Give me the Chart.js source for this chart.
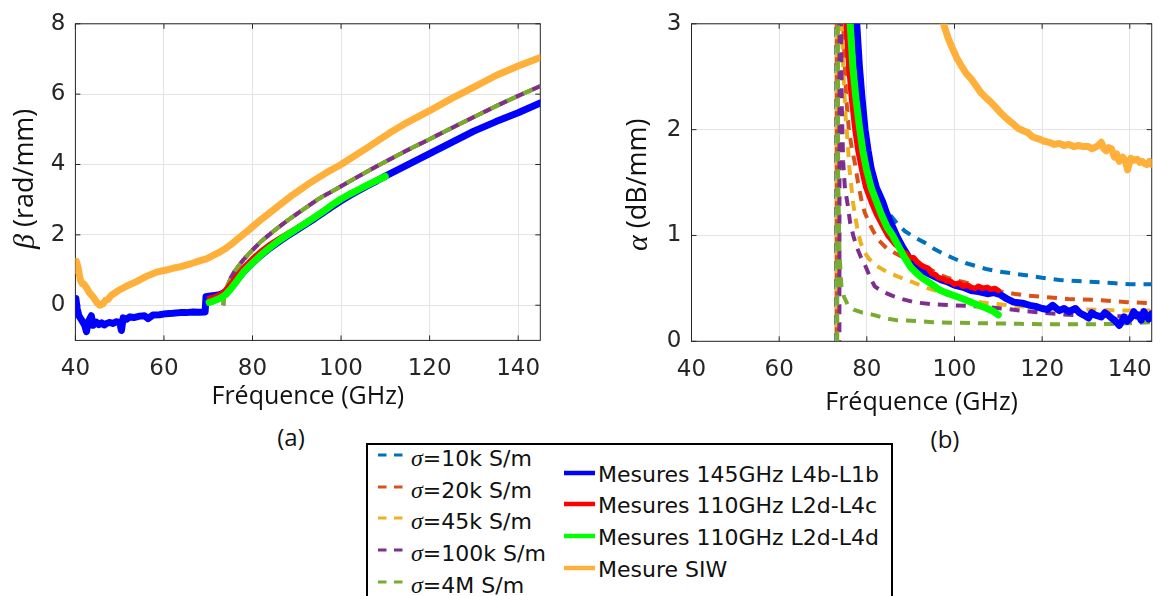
<!DOCTYPE html>
<html>
<head>
<meta charset="utf-8">
<script src="https://cdn.jsdelivr.net/npm/chart.js@4.4.1/dist/chart.umd.min.js"></script>
<style>
  body { margin: 0; width: 1167px; height: 596px; overflow: hidden; position: relative; background: #fff; }
  canvas { position: absolute; top: 0; }
  .cap { position: absolute; font: 24px "Open Sans", sans-serif; color: #111; line-height: 1; transform: translate(-50%, -50%); }
  #legendBox { position: absolute; left: 366px; top: 443px; width: 527px; height: 200px; border: 2px solid #000; box-sizing: border-box; }
  .lt { position: absolute; font: 22px "DejaVu Sans", sans-serif; color: #111; line-height: 24px; white-space: nowrap; }
  .lt i { font-family: "Liberation Serif", serif; font-size: 24px; }
  .ls { position: absolute; }
</style>
</head>
<body>
<canvas id="chartA" width="580" height="412" style="left:0"></canvas>
<canvas id="chartB" width="567" height="418" style="left:600px"></canvas>
<div class="cap" style="left:291px;top:437px">(a)</div>
<div class="cap" style="left:945px;top:439px">(b)</div>
<div id="legendBox"></div>
<script>
// axes ticks
const freqTicks = [40, 60, 80, 100, 120, 140];
const betaTicks = [0, 2, 4, 6, 8];
const alphaTicks = [0, 1, 2, 3];

// legend
const sigmaLabels = ['10k', '20k', '45k', '100k', '4M'];
const simColors = ['#0072BD', '#D95319', '#EDB120', '#7E2F8E', '#77AC30'];
const measLabels = ['Mesures 145GHz L4b-L1b', 'Mesures 110GHz L2d-L4c', 'Mesures 110GHz L2d-L4d', 'Mesure SIW'];
const measColors = ['#0000ff', '#ff0000', '#00ff00', '#ffb03a'];

// ---- beta (rad/mm) ----
const fBetaBlue = [40.0, 40.1, 40.4, 40.8, 41.4, 42.1, 42.5, 42.9, 43.6, 44.0, 44.7, 45.3, 45.9, 46.5, 47.0, 47.8, 48.5, 49.2, 50.0, 50.4,
  50.8, 51.5, 52.3, 53.2, 54.5, 55.6, 56.4, 57.5, 59.0, 60.5, 62.0, 63.6, 65.0, 66.6, 68.0, 69.3, 69.5, 70.5, 71.5, 72.5,
  73.5, 74.5, 75.5, 76.5, 78, 80, 82, 84, 86, 88, 90, 92, 94, 96, 98, 100, 102, 104, 106, 108, 110, 115, 120, 125, 130, 135, 140, 145];
const betaBlue = [0.15, 0.19, -0.1, -0.3, -0.42, -0.57, -0.75, -0.47, -0.3, -0.57, -0.48, -0.55, -0.5, -0.56, -0.52, -0.49, -0.52, -0.47, -0.49, -0.72,
  -0.36, -0.4, -0.33, -0.35, -0.31, -0.3, -0.38, -0.28, -0.27, -0.24, -0.23, -0.21, -0.21, -0.19, -0.2, -0.19, 0.24, 0.26, 0.28, 0.3,
  0.35, 0.45, 0.56, 0.72, 0.95, 1.2, 1.43, 1.63, 1.81, 1.98, 2.14, 2.3, 2.46, 2.63, 2.8, 2.97, 3.12, 3.26, 3.4, 3.53, 3.67, 3.99, 4.31, 4.63, 4.95, 5.22, 5.47, 5.75];

const fBetaRed = [70.2, 71, 72, 73, 74, 75, 76, 77, 78, 80, 82, 84, 86, 88, 90, 94, 98, 102, 106, 110];
const betaRed = [0.2, 0.23, 0.27, 0.33, 0.44, 0.6, 0.77, 0.93, 1.08, 1.33, 1.55, 1.74, 1.9, 2.05, 2.2, 2.52, 2.86, 3.16, 3.42, 3.64];

const fBetaGreen = [70.2, 71, 72, 73, 74, 75, 76, 77, 78, 80, 82, 84, 86, 88, 90, 92, 94, 96, 98, 100, 102, 104, 106, 108, 110];
const betaGreen = [0.08, 0.11, 0.16, 0.22, 0.31, 0.45, 0.61, 0.78, 0.95, 1.2, 1.44, 1.65, 1.84, 2.01, 2.17, 2.33, 2.5, 2.67, 2.85, 3.02, 3.16, 3.29, 3.42, 3.54, 3.66];

const fBetaSiw = [40.0, 40.2, 40.6, 41.1, 41.5, 41.9, 42.5, 43.2, 44.0, 44.7, 45.5, 46.2, 46.8, 47.4, 48.1, 49.6, 51.5, 53.8, 56.0, 58.3,
  60.5, 62.0, 63.6, 65.0, 66.6, 68.0, 69.6, 71.0, 72.6, 74.0, 75.6, 77.0, 78.6, 80.0, 81.6, 85.4, 89.1, 92.9, 96.7, 100,
  105.7, 111, 115, 120, 125, 130, 135, 140, 145];
const betaSiw = [0.99, 1.25, 1.08, 0.72, 0.62, 0.6, 0.5, 0.35, 0.24, 0.1, 0.0, 0.04, 0.14, 0.17, 0.28, 0.41, 0.54, 0.67, 0.82, 0.94,
  1.0, 1.05, 1.09, 1.14, 1.2, 1.26, 1.32, 1.41, 1.51, 1.62, 1.77, 1.92, 2.08, 2.23, 2.4, 2.78, 3.14, 3.47, 3.77, 4.0,
  4.46, 4.9, 5.2, 5.53, 5.88, 6.2, 6.53, 6.8, 7.04];

// the five simulated beta curves lie on top of each other
const fBetaSim = [73.4, 73.6, 74, 74.5, 75.2, 76, 77, 78, 80, 82, 85, 88, 91, 95, 100, 105, 110, 115, 120, 125, 130, 135, 140, 145];
const betaSim = [0, 0.25, 0.45, 0.6, 0.8, 0.97, 1.14, 1.3, 1.57, 1.82, 2.13, 2.42, 2.68, 3.03, 3.38, 3.74, 4.08, 4.41, 4.72, 5.04, 5.35, 5.66, 5.95, 6.23];

// ---- alpha (dB/mm) ----
const fAlphaBlue = [77.4, 77.7, 78.3, 78.9, 79.6, 80.3, 81.0, 82.2, 83.6, 84.6, 85.9, 87, 88.3, 89.5, 91, 93, 95, 97, 98.5, 100,
  102, 103.8, 105.5, 107.5, 109, 110.5, 112, 113.5, 115.5, 117.2, 118.5, 120, 121.2, 122.4, 123.9, 125, 126.1, 127.6, 128.5, 129.4,
  130.6, 131.3, 132, 133.5, 134.3, 135, 135.8, 136.5, 137.6, 138.2, 138.7, 139.4, 140.2, 140.9, 141.5, 142, 142.6, 143.2, 143.8, 144.3, 145];
const alphaBlue = [3.4, 3.0, 2.6, 2.3, 2.0, 1.8, 1.63, 1.45, 1.32, 1.2, 1.08, 0.98, 0.88, 0.8, 0.72, 0.66, 0.62, 0.58, 0.56, 0.53,
  0.51, 0.48, 0.47, 0.45, 0.46, 0.44, 0.4, 0.37, 0.36, 0.34, 0.33, 0.31, 0.3, 0.34, 0.29, 0.31, 0.28, 0.31, 0.27, 0.25,
  0.22, 0.27, 0.25, 0.23, 0.27, 0.25, 0.22, 0.2, 0.15, 0.19, 0.23, 0.19, 0.22, 0.28, 0.24, 0.25, 0.2, 0.28, 0.24, 0.21, 0.26];

const fAlphaRed = [75.0, 75.3, 75.9, 76.5, 77.3, 78.0, 78.8, 79.8, 81, 82.2, 83.5, 84.8, 85.8, 86.6, 87.4, 88.3, 89.0, 89.8, 90.7, 91.5,
  92.4, 93.3, 94.0, 94.8, 95.6, 96.4, 97.4, 98.2, 99, 100, 101, 102, 103, 103.8, 104.7, 105.5, 106.3, 107.5, 108.3, 109.2, 110];
const alphaRed = [3.4, 3.0, 2.6, 2.3, 2.0, 1.8, 1.63, 1.45, 1.32, 1.2, 1.1, 1.0, 0.95, 0.91, 0.89, 0.84, 0.83, 0.79, 0.79, 0.75,
  0.72, 0.7, 0.69, 0.64, 0.63, 0.6, 0.59, 0.57, 0.57, 0.54, 0.55, 0.52, 0.53, 0.51, 0.5, 0.52, 0.5, 0.51, 0.49, 0.5, 0.48];

const fAlphaGreen = [75.9, 76.2, 76.8, 77.5, 78.4, 79.1, 79.9, 81, 82.2, 83.3, 84.6, 85.9, 87.2, 88.5, 90, 91.2, 92.6, 94.8, 96.4, 98,
  100, 102, 103.8, 105.5, 107.5, 109, 110];
const alphaGreen = [3.4, 3.0, 2.6, 2.3, 2.0, 1.8, 1.63, 1.45, 1.32, 1.2, 1.08, 1.0, 0.9, 0.8, 0.7, 0.65, 0.6, 0.54, 0.49, 0.46,
  0.43, 0.4, 0.37, 0.34, 0.31, 0.28, 0.25];

const fAlphaSiw = [97.2, 97.5, 98.5, 99.3, 100.5, 101.6, 102.7, 103.8, 105, 106, 107.2, 108.3, 109.4, 110.5, 112, 113.5, 114.6, 115.7, 116.8, 117.9,
  118.6, 119.4, 120.5, 121.6, 122.8, 123.9, 125, 126.1, 127.2, 128.3, 129.4, 130.6, 131.3, 132, 132.8, 133.5, 134.1, 134.6, 135.2, 135.8,
  136.5, 137, 137.6, 138.4, 139, 139.5, 140.2, 140.9, 141.7, 142.3, 142.8, 143.4, 143.9, 144.5, 145];
const alphaSiw = [3.05, 3.0, 2.87, 2.79, 2.68, 2.6, 2.53, 2.48, 2.41, 2.35, 2.3, 2.26, 2.21, 2.16, 2.1, 2.05, 2.01, 1.99, 1.97, 1.93,
  1.92, 1.91, 1.89, 1.88, 1.86, 1.87, 1.85, 1.86, 1.84, 1.85, 1.84, 1.84, 1.82, 1.83, 1.85, 1.88, 1.82, 1.8, 1.83, 1.82,
  1.74, 1.77, 1.7, 1.74, 1.7, 1.62, 1.73, 1.71, 1.72, 1.69, 1.7, 1.68, 1.67, 1.7, 1.67];

const fAlpha10k = [73.0, 73.05, 77.3, 78.1, 79, 80, 81.3, 82.8, 84, 85.2, 87, 88.7, 91, 93.3, 95.5, 97.8, 100, 102.5, 105, 107.5,
  110, 113.5, 117, 120, 124, 128, 132, 136, 140, 145];
const alpha10k = [0, 6, 3.0, 2.5, 2.1, 1.8, 1.55, 1.38, 1.27, 1.2, 1.11, 1.04, 0.98, 0.93, 0.87, 0.82, 0.78, 0.74, 0.71, 0.68,
  0.66, 0.64, 0.62, 0.6, 0.58, 0.57, 0.56, 0.55, 0.54, 0.54];

const fAlpha20k = [73.1, 73.15, 74.6, 75.0, 75.3, 75.9, 76.6, 77.2, 78, 78.7, 79.5, 80.5, 81.6, 82.8, 84.5, 86.6, 89, 91.5, 94, 97,
  100, 104, 108, 113.5, 117, 120, 126, 133, 139.5, 145];
const alpha20k = [0, 6, 3.0, 2.6, 2.3, 2.0, 1.82, 1.7, 1.5, 1.35, 1.22, 1.12, 1.03, 0.95, 0.88, 0.83, 0.78, 0.75, 0.69, 0.62,
  0.58, 0.54, 0.49, 0.45, 0.43, 0.42, 0.4, 0.39, 0.37, 0.36];

const fAlpha45k = [73.15, 73.2, 74.3, 74.7, 75.2, 75.6, 76.0, 76.5, 76.9, 77.4, 77.9, 78.6, 79.5, 80.5, 82, 84, 86, 88.5, 91, 94,
  97, 100, 104, 107.5, 115, 122, 130, 140, 145];
const alpha45k = [0, 6, 3.0, 2.5, 2.1, 1.9, 1.65, 1.45, 1.3, 1.17, 1.05, 0.93, 0.84, 0.78, 0.72, 0.67, 0.63, 0.59, 0.55, 0.5,
  0.46, 0.42, 0.38, 0.36, 0.33, 0.31, 0.3, 0.29, 0.29];

const fAlpha100k = [73.75, 73.8, 74.1, 74.3, 74.6, 75.0, 75.6, 76.2, 76.9, 77.7, 78.7, 79.8, 80.8, 81.8, 83.5, 85.9, 88, 90.7, 94.8, 100,
  105, 111, 115, 120, 126, 135, 145];
const alpha100k = [0, 6, 3.0, 2.2, 1.7, 1.45, 1.3, 1.12, 1.0, 0.89, 0.79, 0.7, 0.6, 0.52, 0.47, 0.43, 0.4, 0.37, 0.35, 0.34,
  0.33, 0.31, 0.29, 0.27, 0.25, 0.24, 0.23];

const fAlpha4M = [73.25, 73.3, 73.45, 73.75, 74.2, 74.8, 75.6, 77, 79, 81.5, 84, 86.7, 91.8, 95, 100, 107.5, 115, 122, 130, 137, 142, 145];
const alpha4M = [0, 6, 1.6, 0.85, 0.52, 0.42, 0.35, 0.3, 0.27, 0.25, 0.22, 0.2, 0.19, 0.18, 0.175, 0.17, 0.165, 0.16, 0.16, 0.165, 0.175, 0.18];

const DASH = [10, 8];

function line(fs, vs, color, width, dashed, offset) {
  return {
    data: fs.map((f, i) => ({ x: f, y: vs[i] })),
    borderColor: color,
    borderWidth: width,
    borderDash: dashed ? DASH : [],
    borderDashOffset: offset || 0,
    borderJoinStyle: 'round',
    borderCapStyle: dashed ? 'butt' : 'round',
    pointRadius: 0,
    tension: 0,
    fill: false
  };
}

// box + inward ticks like matlab, and y label with an italic greek letter
const boxPlugin = {
  id: 'matlabBox',
  beforeDatasetsDraw(chart) {
    const { ctx, chartArea: a, scales } = chart;
    ctx.save();
    ctx.strokeStyle = '#262626';
    ctx.lineWidth = 1;
    ctx.strokeRect(a.left, a.top, a.right - a.left, a.bottom - a.top);
    ctx.beginPath();
    scales.x.ticks.forEach(t => {
      const p = scales.x.getPixelForValue(t.value);
      ctx.moveTo(p, a.bottom); ctx.lineTo(p, a.bottom - 5);
      ctx.moveTo(p, a.top); ctx.lineTo(p, a.top + 5);
    });
    scales.y.ticks.forEach(t => {
      const p = scales.y.getPixelForValue(t.value);
      ctx.moveTo(a.left, p); ctx.lineTo(a.left + 5, p);
      ctx.moveTo(a.right, p); ctx.lineTo(a.right - 5, p);
    });
    ctx.stroke();
    ctx.restore();
  },
  afterDraw(chart, args, opts) {
    const { ctx } = chart;
    ctx.save();
    ctx.translate(opts.x, opts.bottom);
    ctx.rotate(-Math.PI / 2);
    ctx.textBaseline = 'middle';
    ctx.textAlign = 'left';
    ctx.fillStyle = '#111';
    ctx.font = 'italic 30px "Liberation Serif"';
    ctx.fillText(opts.greek, 0, 1);
    const w = ctx.measureText(opts.greek).width;
    ctx.font = '27px "Open Sans"';
    ctx.fillText(' ' + opts.unit, w, 0);
    ctx.restore();
  }
};

function makeChart(id, cfg) {
  return new Chart(document.getElementById(id), {
    type: 'line',
    data: { datasets: cfg.datasets },
    plugins: [boxPlugin],
    options: {
      responsive: false,
      animation: false,
      layout: { padding: cfg.padding },
      plugins: {
        legend: { display: false },
        tooltip: { enabled: false },
        matlabBox: cfg.yLabel
      },
      scales: {
        x: {
          type: 'linear', min: 40, max: 145,
          afterBuildTicks: s => { s.ticks = freqTicks.map(v => ({ value: v })); },
          afterFit: s => { s.height = cfg.xHeight; },
          grid: { color: '#e4e4e4', drawTicks: false },
          border: { display: false },
          ticks: { font: { family: 'DejaVu Sans', size: 23 }, color: '#262626', padding: 15, maxRotation: 0, autoSkip: false },
          title: { display: true, text: 'Fréquence (GHz)', font: { family: 'Open Sans', size: 25 }, color: '#111', padding: { top: 0, bottom: 0 } }
        },
        y: {
          type: 'linear', min: cfg.yMin, max: cfg.yMax,
          afterBuildTicks: s => { s.ticks = cfg.yTicks.map(v => ({ value: v })); },
          afterFit: s => { s.width = cfg.yWidth; },
          grid: { color: '#e4e4e4', drawTicks: false },
          border: { display: false },
          ticks: { font: { family: 'DejaVu Sans', size: 23 }, color: '#262626', padding: 10 }
        }
      }
    }
  });
}

function simSets(list) {
  // order: 4M on top, then 100k, 45k, 20k, 10k
  return [
    line(list[4][0], list[4][1], simColors[4], 4, true, 0),
    line(list[3][0], list[3][1], simColors[3], 4, true, 9),
    line(list[2][0], list[2][1], simColors[2], 4, true, 4),
    line(list[1][0], list[1][1], simColors[1], 4, true, 13),
    line(list[0][0], list[0][1], simColors[0], 4, true, 2)
  ];
}

makeChart('chartA', {
  padding: { left: 0, top: 21.7, right: 39.7, bottom: 0 },
  xHeight: 71.6, yWidth: 75.4, yMin: -1, yMax: 8, yTicks: betaTicks,
  yLabel: { greek: 'β', unit: '(rad/mm)', x: 25, bottom: 249 },
  datasets: [
    line(fBetaGreen, betaGreen, measColors[2], 7),
    line(fBetaRed, betaRed, measColors[1], 5),
    line(fBetaBlue, betaBlue, measColors[0], 7),
    line(fBetaSiw, betaSiw, measColors[3], 7)
  ].concat(simSets([[fBetaSim, betaSim], [fBetaSim, betaSim], [fBetaSim, betaSim], [fBetaSim, betaSim], [fBetaSim, betaSim]]))
});

makeChart('chartB', {
  padding: { left: 0, top: 20.7, right: 5.4, bottom: 0 },
  xHeight: 76.7, yWidth: 91.5, yMin: 0, yMax: 3, yTicks: alphaTicks,
  yLabel: { greek: 'α', unit: '(dB/mm)', x: 38, bottom: 251 },
  datasets: [
    line(fAlphaGreen, alphaGreen, measColors[2], 7),
    line(fAlphaRed, alphaRed, measColors[1], 5.5),
    line(fAlphaBlue, alphaBlue, measColors[0], 7),
    line(fAlphaSiw, alphaSiw, measColors[3], 7)
  ].concat(simSets([[fAlpha10k, alpha10k], [fAlpha20k, alpha20k], [fAlpha45k, alpha45k], [fAlpha100k, alpha100k], [fAlpha4M, alpha4M]]))
});

// legend (html)
const ROW = 31.7;
sigmaLabels.forEach((s, i) => {
  const y = 455 + i * ROW;
  document.body.insertAdjacentHTML('beforeend',
    `<svg class="ls" style="left:378px;top:${y - 2}px" width="25" height="4"><line x1="0" y1="2" x2="25" y2="2" stroke="${simColors[i]}" stroke-width="3" stroke-dasharray="8.5 7.5"/></svg>` +
    `<div class="lt" style="left:411px;top:${y + 3 - 12}px"><i>σ</i>=${s} S/m</div>`);
});
measLabels.forEach((s, i) => {
  const y = 472.7 + i * ROW;
  document.body.insertAdjacentHTML('beforeend',
    `<svg class="ls" style="left:564px;top:${y - 3}px" width="31" height="6"><line x1="0" y1="3" x2="31" y2="3" stroke="${measColors[i]}" stroke-width="4.5"/></svg>` +
    `<div class="lt" style="left:598px;top:${y + 2 - 12}px">${s}</div>`);
});
</script>
</body>
</html>
